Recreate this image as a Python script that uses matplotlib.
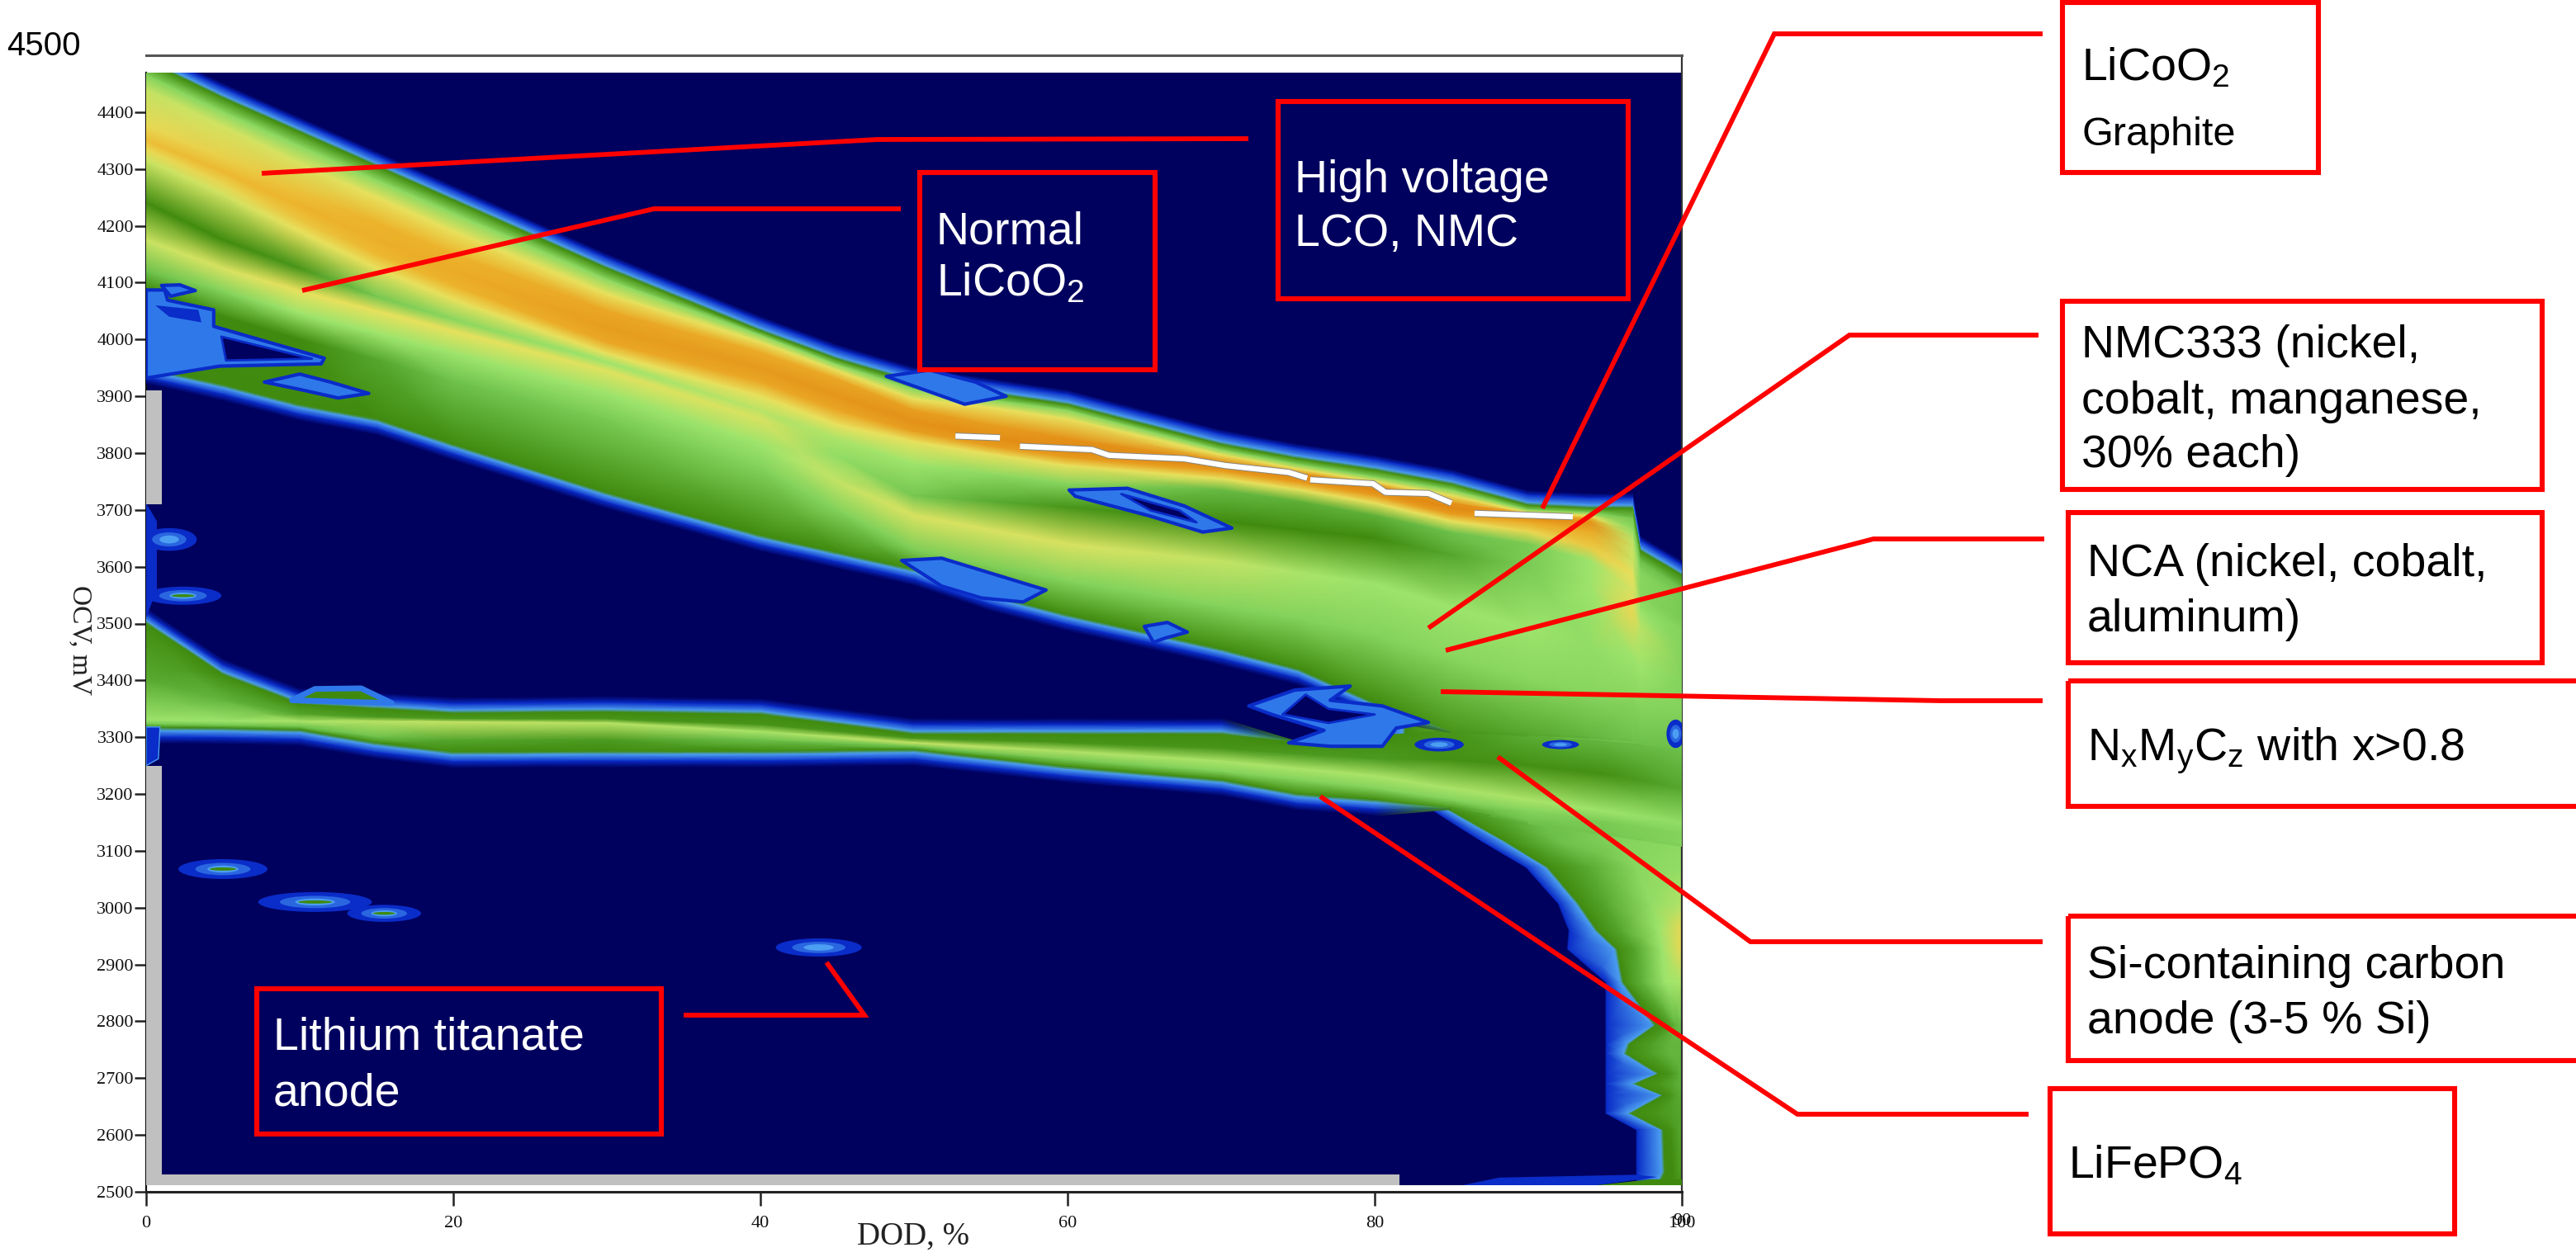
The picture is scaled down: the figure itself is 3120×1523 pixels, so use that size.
import matplotlib
matplotlib.use("Agg")
import matplotlib.pyplot as plt
import numpy as np
from matplotlib.colors import LinearSegmentedColormap, Normalize
from matplotlib.patches import Rectangle, Polygon, Ellipse

plt.rcParams['font.family'] = ['Liberation Sans', 'DejaVu Sans']
plt.rcParams['mathtext.fontset'] = 'custom'
plt.rcParams['mathtext.rm'] = 'Liberation Sans'
plt.rcParams['mathtext.default'] = 'rm'

# ---------- values ----------
x_ticks = [0, 20, 40, 60, 80, 100]
y_ticks = list(range(2500, 4500, 100))

# main band: OCV of each contour at each DOD station, with its colour level
S_main   = [0, 5, 10, 15, 20, 30, 40, 45, 50, 55, 60, 70, 75, 80, 85, 90, 94, 96.8, 97.3, 100]
main_top = [4490,4425,4365,4305,4245,4125,4015,3965,3925,3905,3885,3815,3790,3770,3745,3708,3703,3703,3628,3585]
main_lg1 = [4465,4400,4340,4280,4222,4105,4007,3955,3912,3893,3875,3805,3780,3758,3735,3700,3695,3685,3610,3562]
main_yl1 = [4440,4375,4310,4250,4190,4080,3995,3945,3895,3880,3860,3797,3772,3750,3725,3695,3690,3665,3592,3545]
main_up  = [4375,4320,4260,4205,4150,4050,3977,3930,3875,3850,3825,3785,3765,3743,3712,3692,3684,3650,3580,3533]
main_rdg = [4350,4295,4235,4175,4120,4020,3950,3900,3855,3828,3805,3776,3757,3735,3703,3688,3678,3635,3566,3520]
main_dn  = [4335,4275,4210,4150,4095,3995,3925,3875,3838,3812,3792,3768,3748,3725,3692,3678,3662,3610,3550,3505]
main_yl2 = [4315,4255,4190,4125,4070,3975,3900,3850,3820,3798,3778,3755,3736,3712,3680,3662,3635,3585,3530,3490]
main_t4  = [4240,4175,4125,4075,4035,3960,3875,3825,3780,3762,3745,3735,3715,3690,3660,3640,3610,3560,3520,3460]
main_t5  = [4175,4125,4085,4050,4015,3945,3860,3795,3725,3715,3705,3680,3665,3650,3620,3600,3570,3520,3490,3430]
main_t6  = [4120,4085,4045,4010,3975,3905,3815,3750,3690,3665,3640,3610,3590,3570,3530,3490,3460,3440,3420,3400]
main_t7  = [4090,4040,4000,3965,3925,3860,3775,3700,3630,3600,3575,3530,3510,3480,3440,3400,3380,3370,3360,3350]
main_bot = [3950,3920,3885,3860,3815,3730,3655,3625,3595,3550,3515,3455,3420,3360,3310,3305,3300,3295,3290,3280]
lv_top = [3]*20
lv_lg1 = [4.5,4.7,4.7,4.7,4.7,4.7,4.7,4.7,4.6,4.6,4.6,4.6,4.5,4.5,4.5,4.5,4.5,4.2,4,4]
lv_yl1 = [5.5,5.7,5.8,6,6,6,6,6,6,6,6,6,6,6,6,6,6,4.8,4.5,4.3]
lv_up  = [6.2,6.4,6.7,7,7,7.3,7.2,7.3,7.5,7.5,7.8,7.8,7.8,7.8,7.8,7.6,7.4,5.4,4.6,4.3]
lv_rdg = [6.8,6.9,7,7.1,7.2,7.5,7.6,7.7,7.8,7.9,8,8,8,8,8,8,7.8,5.6,4.6,4.3]
lv_dn  = [6.2,6.3,6.6,6.9,7,7.3,7.3,7.3,7.5,7.5,7.5,7.5,7.5,7.5,7.5,7.2,7.2,5.6,4.6,4.3]
lv_yl2 = [5.6,5.7,6,6,6,6,6,6,6,6,6,6,6,6,6,6.2,6.5,6,4.8,4.5]
lv_t4  = [3,3,3.2,4.2,4.6,5,5.4,5.2,5,4.7,4.5,3.9,3.7,3.7,4,4.3,5,5.8,5,4.5]
lv_t5  = [5.6,5.8,6,6,6,5.9,5.8,4.8,4.2,3.6,3.2,3,3,3,3.5,4.3,5,6.2,5.4,4.5]
lv_t6  = [4,4.5,5,5,5,5,5,5.5,5.8,5.8,5.8,5.5,5.2,5,5,5,4.8,5,5,4.5]
lv_t7  = [3,3,3,3.5,4,4.3,4.5,4.5,4.4,4.4,4.5,4.5,4.5,4.5,4.6,4.6,4.6,4.6,4.6,4.5]
lv_bot = [3,3,3,3,3,3,3,3,3,3,3,3,3,3,3.2,3.5,3.8,4,4,4]
main_halo_lo = [1,1,1,1,1,1,1,1,1,1,1,1,1,1,0,0,0,0,0,0]   # 1 = blue edge below the band

# LiFePO4 band
S_lfp = [0, 5, 10, 15, 20, 30, 40, 50, 60, 70, 75, 80, 85, 90, 95, 100]
lfp_top = [3500,3410,3358,3350,3342,3344,3340,3305,3305,3305,3290,3300,3310,3300,3290,3280]
lfp_mid = [3400,3365,3340,3335,3332,3332,3322,3298,3290,3280,3270,3262,3260,3250,3235,3210]
lfp_rdg = [3330,3328,3328,3328,3327,3325,3310,3290,3275,3258,3245,3232,3210,3190,3170,3150]
lfp_low = [3322,3320,3318,3300,3295,3295,3295,3283,3260,3240,3225,3210,3190,3170,3150,3130]
lfp_bot = [3317,3316,3313,3290,3274,3275,3275,3278,3248,3225,3200,3190,3175,3150,3130,3110]
lf_top = [3,3,3,3,3,3,3,3,3,3,3,3,3.2,3.6,3.8,4]
lf_mid = [3.6,3.8,3.5,3.3,3.3,3.2,3.2,3.2,3.2,3.2,3.3,3.3,3.1,3.1,3.1,3.5]
lf_rdg = [5,5,5.2,5.4,5.5,5.4,5.2,5.5,5.3,5.2,5.2,5.2,5.2,5.2,5,4.8]
lf_low = [4,4,4,4,3.5,3.3,4,4,4.2,4.5,4.5,4.5,4.5,4.5,4.3,4.5]
lf_bot = [3,3,3,3,3,3,3,3,3,3,3,3,3.2,4,4.2,4.5]
lfp_halo_hi = [1,1,1,1,1,1,1,1,1,1,0,0,0,0,0,0]
lfp_halo_lo = [1,1,1,1,1,1,1,1,1,1,1,1,0,0,0,0]

# right-hand wall: DOD of each contour at each OCV station
W_ocv  = [3320,3220,3175,3117,3071,3007,2960,2927,2869,2793,2760,2743,2708,2690,2670,2638,2609,2535,2511]
W_left = [80,80.5,83.5,86.9,89.8,91.9,92.6,92.5,95,95,95,95,95,95,95,95,97,97,97]
W_edge = [82,82,84.7,88.5,91.3,93.3,94.5,95.8,96.2,98.3,96.6,96.4,98.5,97.0,98.8,96.7,98.8,98.9,98.5]
W_c1   = [88,88,90,92,94,95,96,97,97.5,99,98,98,99.2,98.5,99.3,98.3,99.3,99.4,99.2]
W_c2   = [94,94,95,96,97,98,98.5,98.7,98.9,99.6,99.2,99.2,99.7,99.4,99.7,99.3,99.7,99.7,99.6]
lw_c1  = [4.2,4.2,4,4,3.6,3.5,3.5,3.5,3.8,3.2,3.4,3.4,3.2,3.2,3.2,3.2,3.1,3,3]
lw_c2  = [4,3.6,4.2,4.5,4.6,4.8,5,5,5,3.8,3.8,3.8,3.5,3.5,3.5,3.4,3.4,3.2,3.1]
lw_c3  = [4.5,4.2,4.5,4.7,4.8,5.3,6.2,6.2,5.2,4,3.8,3.8,3.8,3.8,3.6,3.5,3.5,3.4,3.2]

# small patches (DOD, OCV, width, height, core?)
spots = [(5.0,3068,5.8,35,1),(11.0,3010,7.4,35,1),(15.5,2990,4.8,30,1),(43.8,2930,5.6,32,0),
         (1.5,3648,3.6,40,0),(2.4,3549,5.0,32,1),(84.2,3287,3.2,24,0),(92.1,3287,2.4,16,0),(99.6,3306,1.2,50,0)]
ring_a = [(60.1,3735),(63.9,3738),(67.6,3707),(70.7,3668),(68.8,3661),(65.4,3689),(60.5,3724)]
ring_a_in = [(63.5,3728),(67.3,3699),(68.4,3678),(65.4,3699)]
ring_b = [(48.2,3935),(51,3946),(54,3925),(56,3900),(53.3,3886),(50.7,3911)]
ring_c = [(49.2,3611),(51.8,3615),(55.2,3587),(58.6,3559),(57.1,3538),(54.4,3545),(51.8,3566)]
ring_d = [(65,3495),(66.5,3502),(67.8,3485),(66.3,3474),(65.6,3467)]
ring_e = [(71.8,3355),(74.8,3383),(78.4,3390),(77.1,3365),(80.5,3355),(83.5,3326),(81.4,3316),(80.5,3284),(77.1,3284),(74.4,3290),(76.7,3312),(73.3,3340)]
ring_e_in = [(75.5,3375),(77,3350),(80,3340),(77,3325),(74,3340)]
ring_f = [(7.7,3925),(10,3939),(12,3925),(14.5,3905),(12.5,3897),(10,3912)]
mess = [(0,4087),(1.2,4087),(1.4,4069),(4.4,4052),(4.4,4023),(11.6,3967),(11.4,3957),(4.8,3953),(0,3932)]
mess_in = [(4.9,4005),(10.8,3966),(5.2,3963)]
mess_in2 = [(0.6,4060),(3.4,4052),(3.6,4030),(1.5,4040)]
ring_g = [(1,4095),(2.2,4096),(3.2,4086),(1.6,4076)]
left_strip = [(0,3712),(0.7,3680),(0.7,3560),(0,3510)]
left_low = [(0,3318),(0.9,3318),(0.8,3262),(0,3250)]
lfp_bump = [(9.5,3365),(11,3385),(14,3386),(16,3360)]
foot_blue = [(85.6,2511),(88.1,2525),(97,2530),(98.4,2526),(94.3,2511)]
foot_green = [(94.3,2511),(98,2522),(100,2522),(100,2511)]
white_a = [(52.7,3830),(55.6,3827)]
white_b = [(56.9,3812),(61.6,3806),(62.7,3796),(67.6,3790),(70.3,3778),(74.4,3766),(75.6,3756)]
white_c = [(75.8,3753),(79.9,3746),(80.7,3731),(83.5,3729),(85,3712)]
white_d = [(86.5,3694),(92.9,3688)]
gray_bars = [(0,3710,1,200),(0,2511,1,739),(0,2511,81.6,19)]

# ---------- figure ----------
fig = plt.figure(figsize=(31.2, 15.23), dpi=100, facecolor='white')
ax = fig.add_axes([177/3120, (1523-1444)/1523, 1860/3120, 1377/1523])
ax.set_xlim(0, 100); ax.set_ylim(2500, 4500)

cmap = LinearSegmentedColormap.from_list('heat', [
    (0/8,'#00005e'),(1/8,'#0a2cc8'),(2/8,'#4c9ef2'),(3/8,'#3f8a0e'),(4/8,'#6cc04a'),
    (5/8,'#9be46c'),(6/8,'#e8e25e'),(7/8,'#edb42c'),(8/8,'#e28a14')])
norm = Normalize(0, 8)
clip = Rectangle((0, 2511), 100, 4470-2511, transform=ax.transData)
ax.add_patch(Rectangle((0, 2511), 100, 4470-2511, fc='#00005e', ec='none', zorder=1))

def mesh(X, Y, C, z=2):
    m = ax.pcolormesh(np.array(X, float), np.array(Y, float), np.array(C, float),
                      shading='gouraud', cmap=cmap, norm=norm, zorder=z)
    m.set_clip_path(clip)

# wall
E = np.array(W_edge); O = np.array(W_ocv); WL = np.array(W_left)
wX = [WL, WL+0.1, E-0.2, E, W_c1, W_c2, np.full(len(E), 100.)]
wC = [np.zeros(len(E)), np.ones(len(E)), np.full(len(E),2.), np.full(len(E),3.), lw_c1, lw_c2, lw_c3]
mesh(wX, [O]*7, wC, 2)

# LFP band
t = np.array(lfp_top, float); b = np.array(lfp_bot, float)
hh = np.array(lfp_halo_hi); hl = np.array(lfp_halo_lo)
Yl = [t+26*hh+2, t+16*hh+1, t+5*hh+0.5, t, lfp_mid, lfp_rdg, lfp_low, b, b-5*hl-0.5, b-16*hl-1, b-26*hl-2]
Cl = [np.where(hh,0,lf_top), np.where(hh,1,lf_top), np.where(hh,2,lf_top), lf_top, lf_mid, lf_rdg, lf_low, lf_bot,
      np.where(hl,2,lf_bot), np.where(hl,1,lf_bot), np.where(hl,0,lf_bot)]
mesh([S_lfp]*11, Yl, Cl, 3)

# main band
t = np.array(main_top, float); b = np.array(main_bot, float)
hl = np.array(main_halo_lo); n = len(S_main)
Ym = [t+26, t+18, t+5, t, main_lg1, main_yl1, main_up, main_rdg, main_dn, main_yl2, main_t4, main_t5, main_t6, main_t7, b,
      b-5*hl-0.5, b-16*hl-1, b-26*hl-2]
Cm = [np.zeros(n), np.ones(n), np.full(n,2.), lv_top, lv_lg1, lv_yl1, lv_up, lv_rdg, lv_dn, lv_yl2, lv_t4, lv_t5, lv_t6, lv_t7, lv_bot,
      np.where(hl,2,lv_bot), np.where(hl,1,lv_bot), np.where(hl,0,lv_bot)]
mesh([S_main]*18, Ym, Cm, 4)

NAVY='#00005e'; BLUE='#0a2cc8'; LB='#4c9ef2'; MB='#2f78ea'; DG='#3f8a0e'
def poly(pts, fc, ec=None, lw=0, z=5):
    p = Polygon(pts, closed=True, fc=fc, ec=ec if ec else 'none', lw=lw, zorder=z, joinstyle='round')
    ax.add_patch(p); p.set_clip_path(clip)

poly(lfp_bump, DG, MB, 5, 3.5)
poly(mess, MB, BLUE, 3)
poly(mess_in, NAVY, BLUE, 2, 6)
poly(mess_in2, BLUE, None, 0, 6)
for r in (ring_a, ring_b, ring_c, ring_d, ring_e, ring_f, ring_g):
    poly(r, MB, BLUE, 3)
poly(ring_a_in, NAVY, BLUE, 2, 6)
poly(ring_e_in, NAVY, BLUE, 2, 6)
poly(left_strip, BLUE, None, 0, 5)
poly(left_low, BLUE, LB, 1, 5)
poly(foot_blue, BLUE, None, 0, 5)
poly(foot_green, DG, None, 0, 5)

for (d, v, w, h, core) in spots:
    for f, col in ((1.0, BLUE), (0.62, '#2a66e0'), (0.35, LB)):
        e = Ellipse((d, v), w*f, h*f, fc=col, ec='none', zorder=6)
        ax.add_patch(e); e.set_clip_path(clip)
    if core:
        e = Ellipse((d, v), w*0.3, h*0.16, fc=DG, ec='none', zorder=7)
        ax.add_patch(e); e.set_clip_path(clip)

for seg in (white_a, white_b, white_c, white_d):
    xs, ys = zip(*seg)
    ax.plot(xs, ys, color='#8a8a80', lw=6.0, zorder=8, solid_capstyle='butt')
    ax.plot(xs, ys, color='white', lw=4.6, zorder=9, solid_capstyle='butt')

for (x0, y0, w, h) in gray_bars:
    ax.add_patch(Rectangle((x0, y0), w, h, fc='#c0c0c0', ec='none', zorder=10))

# axes
ax.set_xticks(x_ticks); ax.set_yticks(y_ticks)
ax.tick_params(axis='both', direction='out', length=10, width=1.8, color='#222222', pad=1, labelcolor='#111111')
for lab in ax.get_xticklabels() + ax.get_yticklabels():
    lab.set_family('Liberation Serif'); lab.set_fontsize(16)
ax.tick_params(axis='x', length=12, pad=9)
ax.spines['left'].set_bounds(2500, 4470); ax.spines['left'].set_linewidth(1.6); ax.spines['left'].set_color('#111111')
ax.spines['bottom'].set_linewidth(2.2); ax.spines['bottom'].set_color('#222222')
ax.spines['right'].set_linewidth(1.6); ax.spines['right'].set_color('#333333')
ax.spines['top'].set_linewidth(2.2); ax.spines['top'].set_color('#555555')

# pixel overlay for the callouts
ov = fig.add_axes([0, 0, 1, 1], facecolor='none')
ov.set_xlim(0, 3120); ov.set_ylim(1523, 0); ov.axis('off')
RED = '#ff0000'
boxes = [(1548,123,1972,362),(1114,209,1399,448),(2498,3,2808,209),(2498,365,3079,593),(2505,621,3079,803),
         (2505,825,3130,977),(2505,1110,3130,1285),(2483,1319,2973,1495),(311,1198,801,1374)]
for (a, b_, c, d) in boxes:
    ov.add_patch(Rectangle((a, b_), c-a, d-b_, fc='none', ec=RED, lw=4.4, joinstyle='miter'))
leaders = [[(317,210),(1063,169),(1512,168)],[(366,352),(792,253),(1091,253)],[(1868,616),(2149,41),(2474,41)],
           [(1730,761),(2240,406),(2469,406)],[(1751,788),(2269,653),(2476,653)],[(1745,838),(2350,849),(2474,849)],
           [(1814,917),(2120,1141),(2474,1141)],[(1599,965),(2177,1350),(2457,1350)],[(828,1230),(1047,1230),(1001,1166)]]
for L in leaders:
    xs, ys = zip(*L)
    ov.plot(xs, ys, color=RED, lw=4.2, solid_joinstyle='miter', solid_capstyle='butt')

big = 40
labels = [(1568,233,'High voltage',big,'white'),(1568,298,'LCO, NMC',big,'white'),
          (1134,295,'Normal',big,'white'),(1134,358,'LiCoO$_2$',big,'white'),
          (2521,97,'LiCoO$_2$',big,'black'),(2521,176,'Graphite',35,'black'),
          (2521,433,'NMC333 (nickel,',big,'black'),(2521,501,'cobalt, manganese,',big,'black'),(2521,566,'30% each)',big,'black'),
          (2528,698,'NCA (nickel, cobalt,',big,'black'),(2528,765,'aluminum)',big,'black'),
          (2528,921,'N$_x$M$_y$C$_z$ with x>0.8',big,'black'),
          (2528,1185,'Si-containing carbon',big,'black'),(2528,1252,'anode (3-5 % Si)',big,'black'),
          (2505,1427,'LiFePO$_4$',big,'black'),
          (331,1272,'Lithium titanate',big,'white'),(331,1339,'anode',big,'white'),
          (8,67,'4500',29,'black')]
for (x, y, s, fs, col) in labels:
    ov.text(x, y, s, fontsize=fs, color=col, ha='left', va='baseline')
ov.text(2037, 1479, '90', family='Liberation Serif', fontsize=16, ha='center', va='center', color='#111111')
ov.text(1106, 1498, 'DOD, %', family='Liberation Serif', fontsize=28, ha='center', va='center', color='#222222')
ov.text(97, 776, 'OCV, mV', family='Liberation Serif', fontsize=24, rotation=270, ha='center', va='center', color='#222222')

fig.savefig('out.png', dpi=100)
